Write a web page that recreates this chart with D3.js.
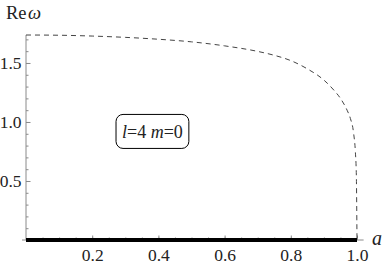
<!DOCTYPE html>
<html>
<head>
<meta charset="utf-8">
<script src="https://cdn.jsdelivr.net/npm/d3@7"></script>
<style>
  body { margin: 0; background: #fff; }
  svg { display: block; }
  svg text { font-family: "Liberation Serif", "Times New Roman", Times, "DejaVu Serif", serif; fill: #222; }
</style>
</head>
<body>
<div id="chart"></div>
<script>
// Data
var spin = [0, 0.1, 0.2, 0.3, 0.4, 0.5, 0.6, 0.7, 0.75, 0.8, 0.85, 0.9, 0.93, 0.95, 0.97, 0.98, 0.99, 0.995, 0.998, 1.0];
var reOmega = [1.737, 1.735, 1.728, 1.717, 1.701, 1.679, 1.645, 1.598, 1.565, 1.52, 1.45, 1.355, 1.27, 1.2, 1.1, 1.03, 0.9, 0.75, 0.55, 0];
var zeroBranch = [0, 1];          // Re w = 0 from a=0 to a=1
var xTicks = [0.2, 0.4, 0.6, 0.8, 1.0];
var yTicks = [0.5, 1.0, 1.5];
var xMinor = d3.range(0.05, 1.001, 0.05);
var yMinor = d3.range(0.1, 1.75, 0.1);

var width = 384, height = 264;
var serif = '"Liberation Serif", "Times New Roman", Times, "DejaVu Serif", serif';

var svg = d3.select("#chart").append("svg")
    .attr("width", width)
    .attr("height", height);

var x = d3.scaleLinear().domain([0, 1]).range([26, 357]);
var y = d3.scaleLinear().domain([0, 1.737]).range([240, 35]);

var axisColor = "#8a8a8a";

// minor ticks first, no labels
svg.append("g")
    .attr("transform", "translate(0," + y(0) + ")")
    .call(d3.axisBottom(x).tickValues(xMinor).tickSizeInner(-2.5).tickSizeOuter(0).tickFormat(""))
    .call(function (g) { g.select(".domain").remove(); g.selectAll("line").attr("stroke", axisColor); });

svg.append("g")
    .attr("transform", "translate(" + x(0) + ",0)")
    .call(d3.axisLeft(y).tickValues(yMinor).tickSizeInner(-2.5).tickSizeOuter(0).tickFormat(""))
    .call(function (g) { g.select(".domain").remove(); g.selectAll("line").attr("stroke", axisColor); });

// major ticks with labels
svg.append("g")
    .attr("transform", "translate(0," + y(0) + ")")
    .call(d3.axisBottom(x).tickValues(xTicks).tickSizeInner(-4.5).tickSizeOuter(0).tickPadding(8.5).tickFormat(d3.format(".1f")))
    .call(function (g) {
        g.attr("font-family", serif);
        g.select(".domain").remove();
        g.selectAll("line").attr("stroke", axisColor);
        g.selectAll("text").attr("font-size", 17.5).attr("fill", "#222");
    });

svg.append("g")
    .attr("transform", "translate(" + x(0) + ",0)")
    .call(d3.axisLeft(y).tickValues(yTicks).tickSizeInner(-4.5).tickSizeOuter(0).tickPadding(4.5).tickFormat(d3.format(".1f")))
    .call(function (g) {
        g.attr("font-family", serif);
        g.select(".domain").remove();
        g.selectAll("line").attr("stroke", axisColor);
        g.selectAll("text").attr("font-size", 17.5).attr("fill", "#222");
    });

// axis lines
svg.append("line")
    .attr("x1", x(-0.012)).attr("x2", x(1.02))
    .attr("y1", y(0)).attr("y2", y(0))
    .attr("stroke", axisColor);
svg.append("line")
    .attr("x1", x(0)).attr("x2", x(0))
    .attr("y1", y(0)).attr("y2", y(1.737))
    .attr("stroke", axisColor);

// axis labels
var yLab = svg.append("text").attr("x", 6).attr("y", 19).attr("font-size", 18.5).attr("font-family", serif);
yLab.append("tspan").text("Re");
yLab.append("tspan").attr("dx", 1.5).attr("font-style", "italic").text("ω");

svg.append("text")
    .attr("x", 372).attr("y", 245)
    .attr("font-size", 20)
    .attr("font-family", serif)
    .attr("font-style", "italic")
    .text("a");

// dashed curve
var line = d3.line()
    .x(function (d, i) { return x(spin[i]); })
    .y(function (d) { return y(d); })
    .curve(d3.curveMonotoneX);

svg.append("path")
    .datum(reOmega)
    .attr("d", line)
    .attr("fill", "none")
    .attr("stroke", "#444")
    .attr("stroke-width", 1)
    .attr("stroke-dasharray", "5,4");

// thick zero branch
svg.append("line")
    .attr("x1", x(zeroBranch[0])).attr("x2", x(zeroBranch[1]))
    .attr("y1", y(0)).attr("y2", y(0))
    .attr("stroke", "#000")
    .attr("stroke-width", 4);

// label box
var box = svg.append("g").attr("transform", "translate(" + x(0.382) + "," + y(0.92) + ")");
var lab = box.append("text")
    .attr("text-anchor", "middle")
    .attr("dy", "0.35em")
    .attr("font-family", serif)
    .attr("font-size", 18);
lab.append("tspan").attr("font-style", "italic").text("l");
lab.append("tspan").text("=4 ");
lab.append("tspan").attr("font-style", "italic").text("m");
lab.append("tspan").text("=0");

var bb = lab.node().getBBox();
box.insert("rect", "text")
    .attr("x", bb.x - 6).attr("y", -17)
    .attr("width", bb.width + 12).attr("height", 34)
    .attr("rx", 7)
    .attr("fill", "#fff")
    .attr("stroke", "#000")
    .attr("stroke-width", 1);
</script>
</body>
</html>
